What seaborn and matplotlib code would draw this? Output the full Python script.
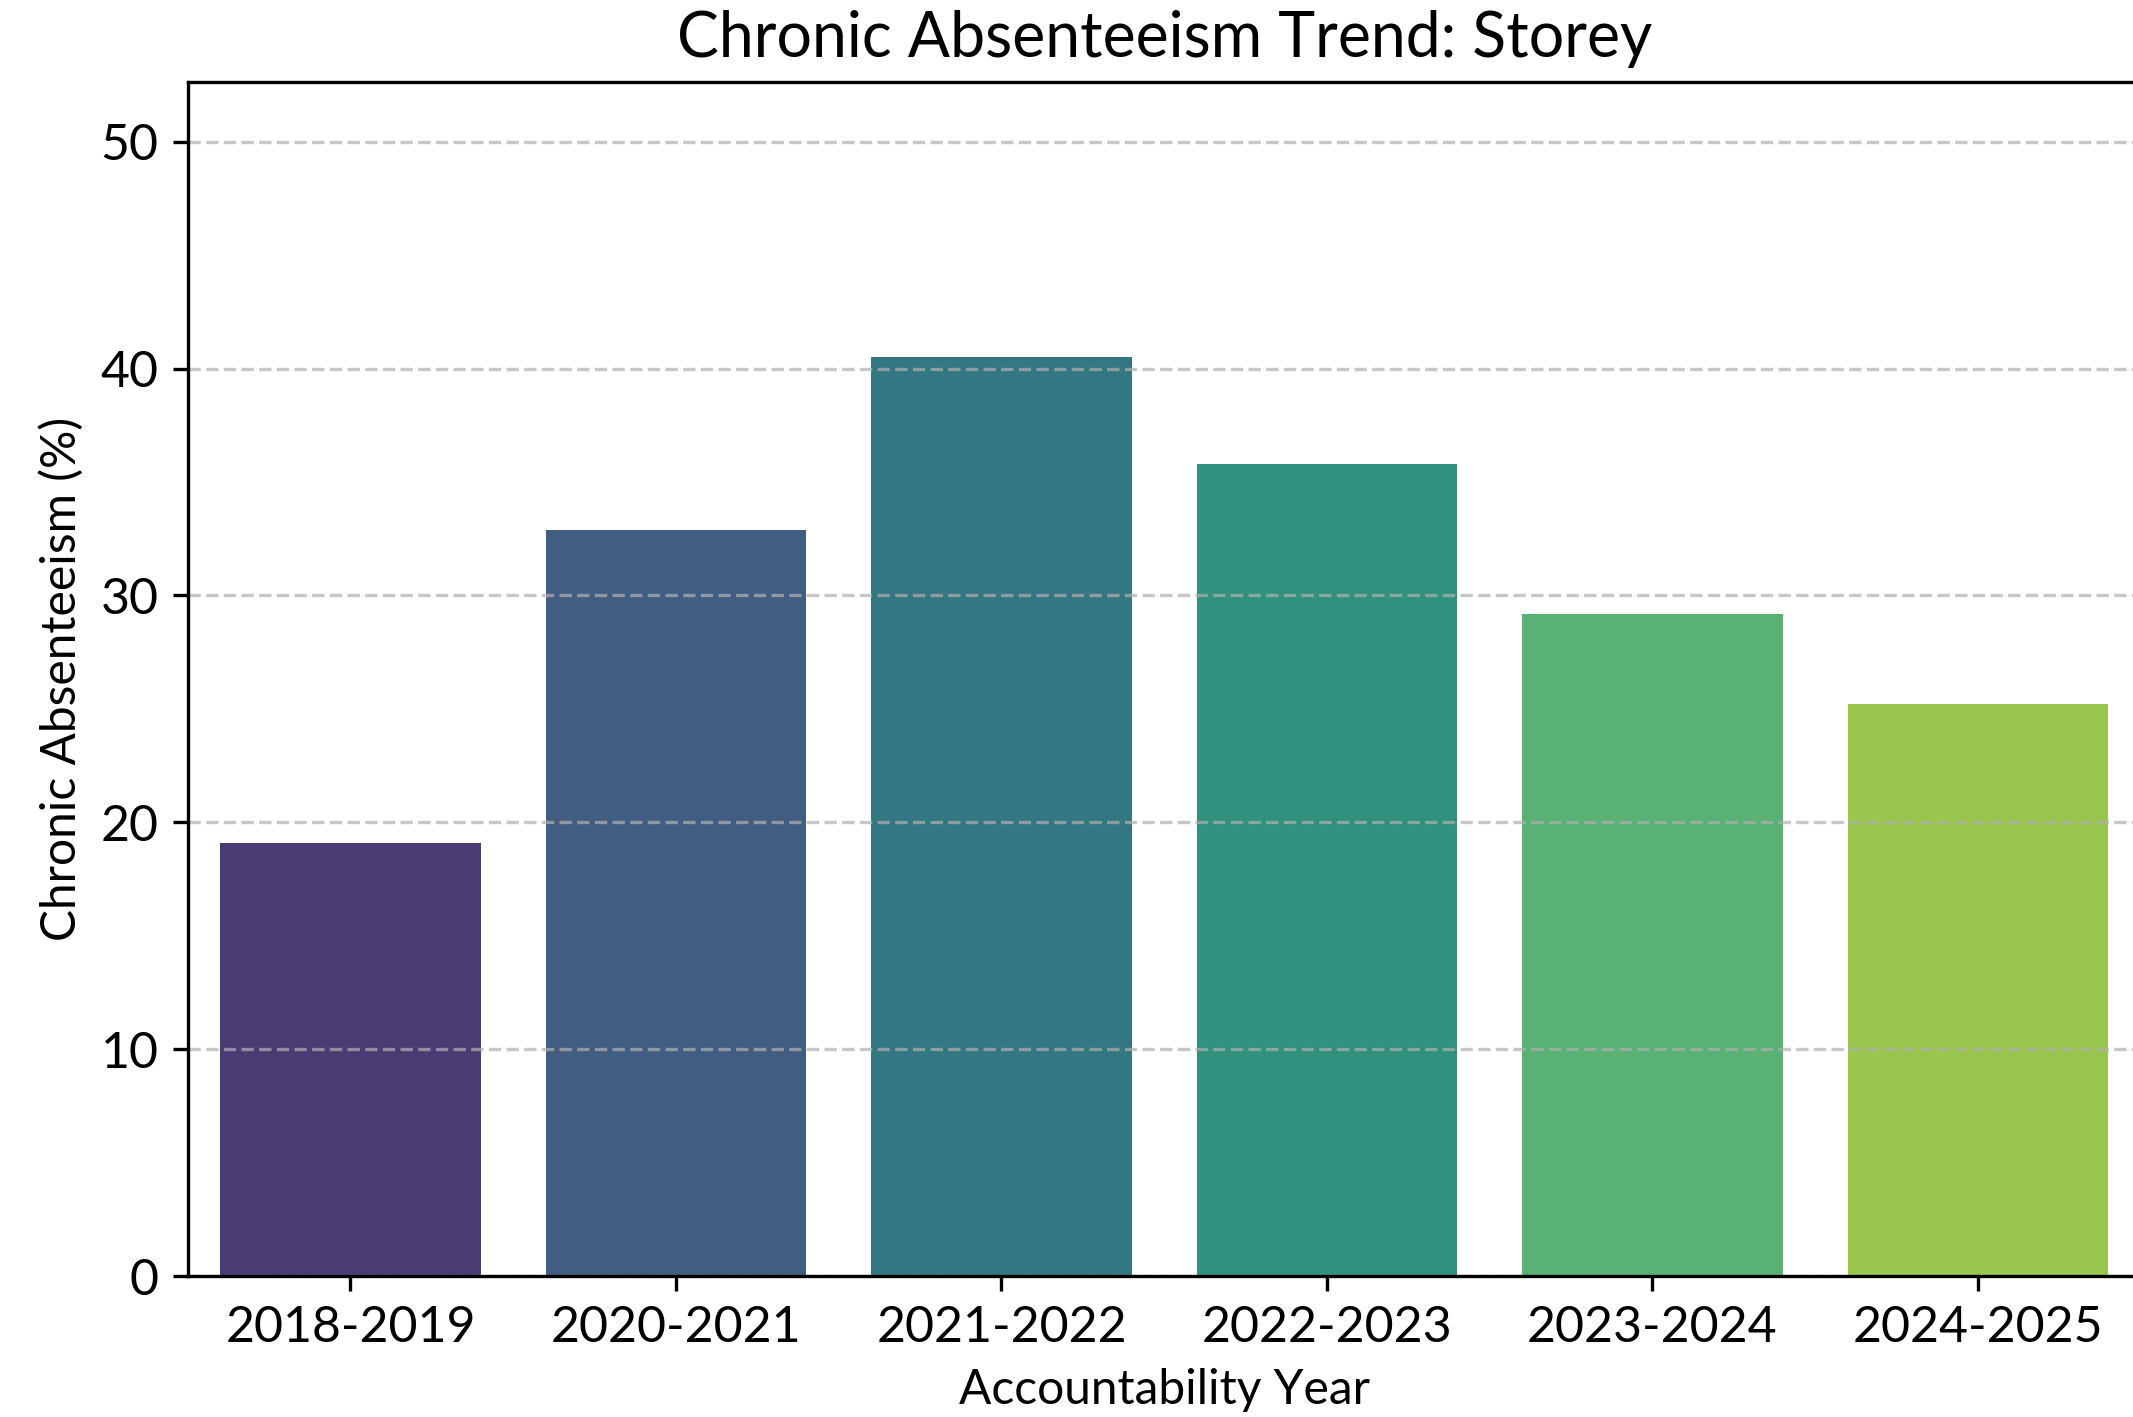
import matplotlib
matplotlib.use("Agg")
import matplotlib.pyplot as plt
import seaborn as sns
import pandas as pd

years = ["2018-2019", "2020-2021", "2021-2022", "2022-2023", "2023-2024", "2024-2025"]
absenteeism = [19.1, 32.9, 40.5, 35.8, 29.2, 25.2]

df = pd.DataFrame({"Accountability Year": years, "Chronic Absenteeism (%)": absenteeism})

plt.rcParams["font.family"] = ["Lato", "DejaVu Sans"]

fig = plt.figure(figsize=(2133 / 300, 1417 / 300), dpi=300)
ax = fig.add_axes([0.088, 0.0995, 0.9156, 0.8429])

sns.barplot(data=df, x="Accountability Year", y="Chronic Absenteeism (%)",
            hue="Accountability Year", palette="viridis", legend=False, ax=ax)

ax.set_ylim(0, max(absenteeism) * 1.3)
ax.grid(axis="y", linestyle="--", alpha=0.7)
ax.set_title("Chronic Absenteeism Trend: Storey", fontsize=15)
ax.set_xlabel("Accountability Year", fontsize=11.5)
ax.set_ylabel("Chronic Absenteeism (%)", fontsize=11.5)
ax.tick_params(axis="both", labelsize=12)

fig.savefig("out.png", dpi=300)
